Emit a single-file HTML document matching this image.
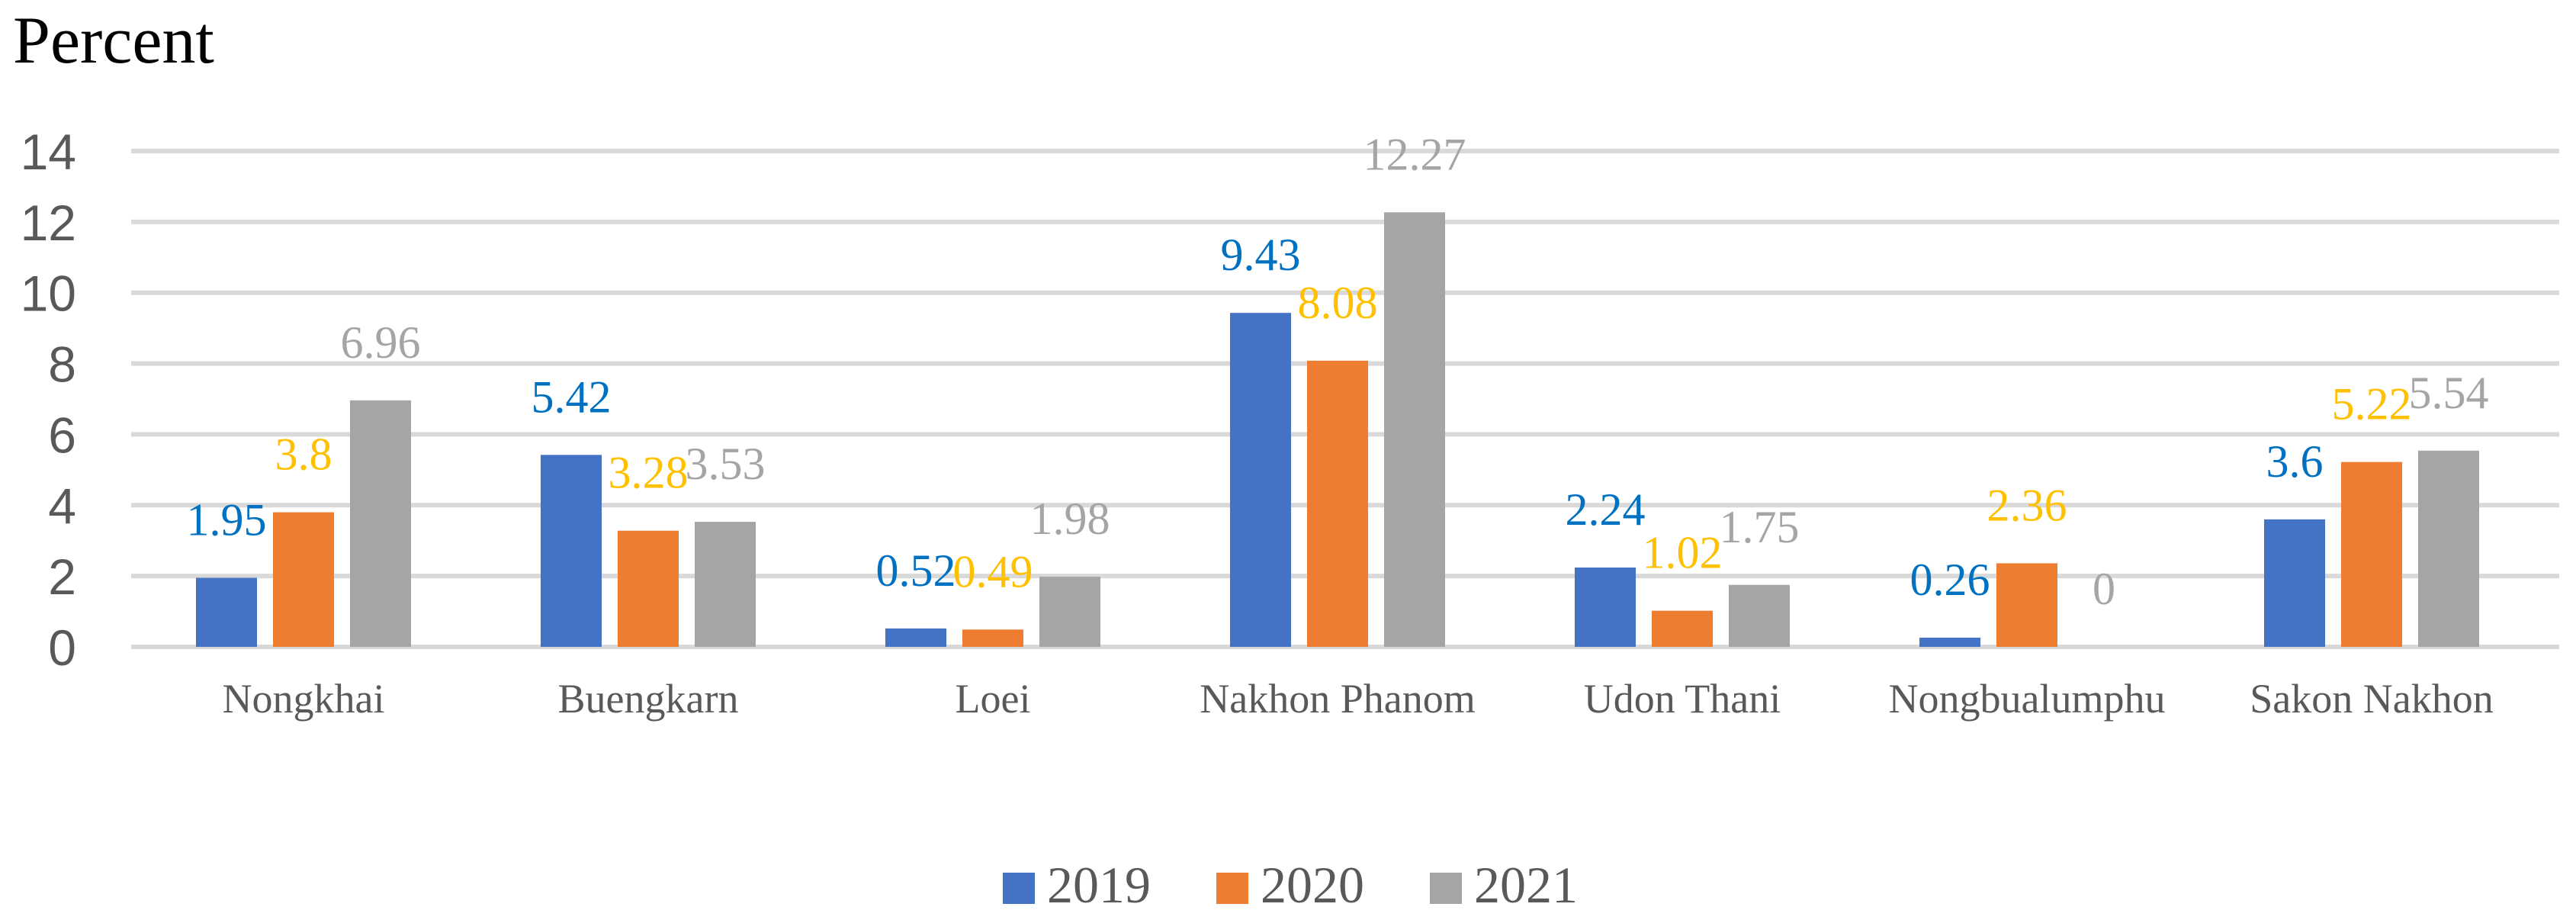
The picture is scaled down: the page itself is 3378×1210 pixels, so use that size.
<!DOCTYPE html>
<html><head><meta charset="utf-8">
<style>
html,body{margin:0;padding:0;background:#fff;}
svg{display:block;}
</style></head>
<body>
<svg id="chart" width="3378" height="1210" viewBox="0 0 3378 1210" xmlns="http://www.w3.org/2000/svg">
<text x="17" y="82" font-family="Liberation Serif, serif" font-size="88" fill="#000">Percent</text>
<g id="grid"></g>
<g id="yticks"></g>
<g id="bars"></g>
<g id="vlabels"></g>
<g id="xlabels"></g>
<g id="legend"></g>
</svg>
<script>
const categories = ["Nongkhai","Buengkarn","Loei","Nakhon Phanom","Udon Thani","Nongbualumphu","Sakon Nakhon"];
const s2019 = [1.95,5.42,0.52,9.43,2.24,0.26,3.6];
const s2020 = [3.8,3.28,0.49,8.08,1.02,2.36,5.22];
const s2021 = [6.96,3.53,1.98,12.27,1.75,0,5.54];
const seriesNames = ["2019","2020","2021"];
const yTicks = [0,2,4,6,8,10,12,14];

const NS="http://www.w3.org/2000/svg";
const left=172, catW=452, y0=848, y14=198, yMax=14;
const barW=80, barStep=101;
const barColors=["#4472C4","#ED7D31","#A5A5A5"];
const labelColors=["#0070C0","#FFC000","#A5A5A5"];
const series=[s2019,s2020,s2021];
function yScale(v){return y0-(v/yMax)*(y0-y14);}
function xCat(i){return left+catW*i+catW/2;}
function mk(tag,attrs,parent,text){const e=document.createElementNS(NS,tag);for(const k in attrs)e.setAttribute(k,attrs[k]);if(text!==undefined)e.textContent=text;parent.appendChild(e);return e;}
const grid=document.getElementById('grid'),yt=document.getElementById('yticks'),bars=document.getElementById('bars'),vl=document.getElementById('vlabels'),xl=document.getElementById('xlabels'),lg=document.getElementById('legend');
yTicks.forEach(t=>{
  const l=mk('line',{x1:left,x2:3356,y1:yScale(t),y2:yScale(t),stroke:'#D9D9D9','stroke-width':6},grid);
  
  
  const tx=mk('text',{x:100,y:yScale(t)+24,'text-anchor':'end','font-family':'Liberation Sans, sans-serif','font-size':66,fill:'#595959'},yt,String(t));
  
  
});
categories.forEach((c,i)=>{
  const cx=xCat(i);
  series.forEach((s,j)=>{
    const bx=cx+(j-1)*barStep;
    const v=s[i];
    const r=mk('rect',{x:bx-barW/2,y:yScale(v),width:barW,height:y0-yScale(v),fill:barColors[j]},bars);
    
    
    const t=mk('text',{x:bx,y:yScale(v)-56,'text-anchor':'middle','font-family':'Liberation Serif, serif','font-size':60,fill:labelColors[j]},vl,String(v));
    
    
  });
  const ct=mk('text',{x:cx,y:934,'text-anchor':'middle','font-family':'Liberation Serif, serif','font-size':54,fill:'#595959'},xl,c);
  
  
});
seriesNames.forEach((n,j)=>{
  const x=1315+j*280;
  const g=mk('g',{},lg);
  
  
  mk('rect',{x:x,y:1144,width:42,height:41,fill:barColors[j]},g);
  mk('text',{x:x+58,y:1183,'font-family':'Liberation Serif, serif','font-size':68,fill:'#595959'},g,n);
});
</script>
</body></html>
